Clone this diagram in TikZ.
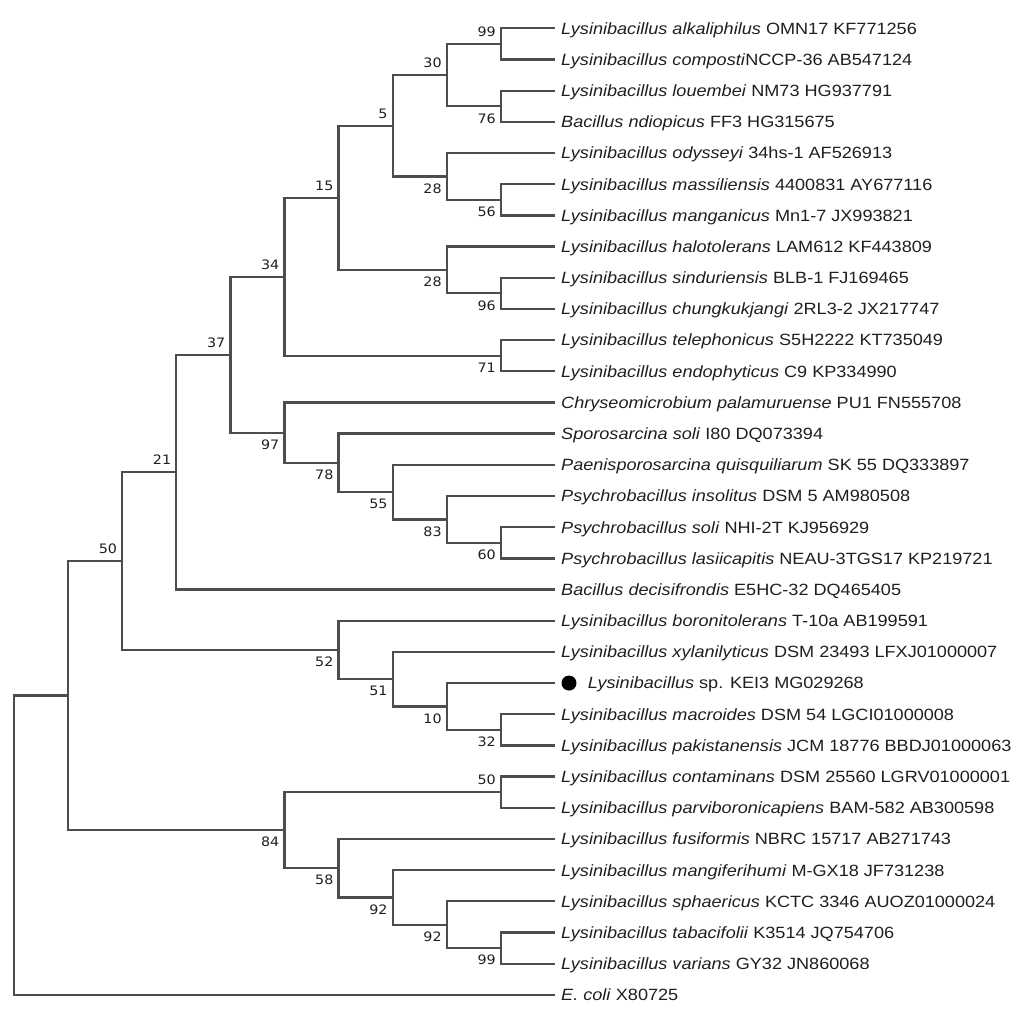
\documentclass[tikz,border=0pt]{standalone}
\usepackage{fontspec}
\newfontfamily\leaffont[FakeStretch=1.11]{Liberation Sans}
\newfontfamily\bsfont[FakeStretch=1.1]{DejaVu Sans}
\definecolor{branch}{HTML}{4d4d4d}
\definecolor{ink}{HTML}{1f1f1f}
\tikzset{
  br/.style={draw=branch, line width=2.3pt},
  leaf/.style={anchor=west, inner sep=0pt, xshift=6pt, text height=11.7pt, text depth=0pt, text=ink, font=\leaffont\fontsize{16.3}{18}\selectfont},
  bsup/.style={anchor=east, inner sep=0pt, xshift=-5pt, yshift=12pt, text height=9.5pt, text depth=0pt, text=ink, font=\bsfont\fontsize{13}{15}\selectfont},
  bsdn/.style={bsup, yshift=-24pt},
  mark dot/.style={circle, fill=black, inner sep=0pt, minimum size=15pt}
}
\begin{document}
\begin{tikzpicture}[x=54.1pt, y=-31.18pt]
\path[use as bounding box] (-0.2588,-0.9076) rectangle (18.669,31.934);
% leaf tips
\foreach \i in {1,...,32}{ \coordinate (t\i) at (10,\i-1); }
% internal nodes
\coordinate (A) at (9,0.5);
\coordinate (B) at (9,2.5);
\coordinate (C) at (8,1.5);
\coordinate (D) at (9,5.5);
\coordinate (E) at (8,4.75);
\coordinate (F) at (7,3.125);
\coordinate (G) at (9,8.5);
\coordinate (H) at (8,7.75);
\coordinate (I) at (6,5.4375);
\coordinate (J) at (9,10.5);
\coordinate (K) at (5,7.96875);
\coordinate (M) at (9,16.5);
\coordinate (N) at (8,15.75);
\coordinate (O) at (7,14.875);
\coordinate (P) at (6,13.9375);
\coordinate (Q) at (5,12.96875);
\coordinate (R) at (4,10.46875);
\coordinate (S) at (3,14.234375);
\coordinate (T) at (9,22.5);
\coordinate (U) at (8,21.75);
\coordinate (V) at (7,20.875);
\coordinate (W) at (6,19.9375);
\coordinate (X) at (2,17.0859375);
\coordinate (Y) at (9,24.5);
\coordinate (Z1) at (9,29.5);
\coordinate (Z2) at (8,28.75);
\coordinate (Z3) at (7,27.875);
\coordinate (Z4) at (6,26.9375);
\coordinate (Z5) at (5,25.71875);
\coordinate (AA) at (1,21.40234375);
\coordinate (RT) at (0,26.201171875);
% branches
\draw[br] (A) |- (t1); \draw[br] (A) |- (t2);
\draw[br] (B) |- (t3); \draw[br] (B) |- (t4);
\draw[br] (C) |- (A); \draw[br] (C) |- (B);
\draw[br] (D) |- (t6); \draw[br] (D) |- (t7);
\draw[br] (E) |- (t5); \draw[br] (E) |- (D);
\draw[br] (F) |- (C); \draw[br] (F) |- (E);
\draw[br] (G) |- (t9); \draw[br] (G) |- (t10);
\draw[br] (H) |- (t8); \draw[br] (H) |- (G);
\draw[br] (I) |- (F); \draw[br] (I) |- (H);
\draw[br] (J) |- (t11); \draw[br] (J) |- (t12);
\draw[br] (K) |- (I); \draw[br] (K) |- (J);
\draw[br] (M) |- (t17); \draw[br] (M) |- (t18);
\draw[br] (N) |- (t16); \draw[br] (N) |- (M);
\draw[br] (O) |- (t15); \draw[br] (O) |- (N);
\draw[br] (P) |- (t14); \draw[br] (P) |- (O);
\draw[br] (Q) |- (t13); \draw[br] (Q) |- (P);
\draw[br] (R) |- (K); \draw[br] (R) |- (Q);
\draw[br] (S) |- (R); \draw[br] (S) |- (t19);
\draw[br] (T) |- (t23); \draw[br] (T) |- (t24);
\draw[br] (U) |- (t22); \draw[br] (U) |- (T);
\draw[br] (V) |- (t21); \draw[br] (V) |- (U);
\draw[br] (W) |- (t20); \draw[br] (W) |- (V);
\draw[br] (X) |- (S); \draw[br] (X) |- (W);
\draw[br] (Y) |- (t25); \draw[br] (Y) |- (t26);
\draw[br] (Z1) |- (t30); \draw[br] (Z1) |- (t31);
\draw[br] (Z2) |- (t29); \draw[br] (Z2) |- (Z1);
\draw[br] (Z3) |- (t28); \draw[br] (Z3) |- (Z2);
\draw[br] (Z4) |- (t27); \draw[br] (Z4) |- (Z3);
\draw[br] (Z5) |- (Y); \draw[br] (Z5) |- (Z4);
\draw[br] (AA) |- (X); \draw[br] (AA) |- (Z5);
\draw[br] (RT) |- (AA); \draw[br] (RT) |- (t32);
% bootstrap values
\node[bsup] (bA) at (A) {99};
\node[bsdn] (bB) at (B) {76};
\node[bsup] (bC) at (C) {30};
\node[bsdn] (bD) at (D) {56};
\node[bsdn] (bE) at (E) {28};
\node[bsup] (bF) at (F) {5};
\node[bsdn] (bG) at (G) {96};
\node[bsdn] (bH) at (H) {28};
\node[bsup] (bI) at (I) {15};
\node[bsdn] (bJ) at (J) {71};
\node[bsup] (bK) at (K) {34};
\node[bsdn] (bM) at (M) {60};
\node[bsdn] (bN) at (N) {83};
\node[bsdn] (bO) at (O) {55};
\node[bsdn] (bP) at (P) {78};
\node[bsdn] (bQ) at (Q) {97};
\node[bsup] (bR) at (R) {37};
\node[bsup] (bS) at (S) {21};
\node[bsdn] (bT) at (T) {32};
\node[bsdn] (bU) at (U) {10};
\node[bsdn] (bV) at (V) {51};
\node[bsdn] (bW) at (W) {52};
\node[bsup] (bX) at (X) {50};
\node[bsup] (bY) at (Y) {50};
\node[bsdn] (bZ1) at (Z1) {99};
\node[bsdn] (bZ2) at (Z2) {92};
\node[bsdn] (bZ3) at (Z3) {92};
\node[bsdn] (bZ4) at (Z4) {58};
\node[bsdn] (bZ5) at (Z5) {84};
% leaf labels
\node[leaf] (n1) at (t1) {\textit{Lysinibacillus alkaliphilus} OMN17 KF771256};
\node[leaf] (n2) at (t2) {\textit{Lysinibacillus composti}NCCP-36 AB547124};
\node[leaf] (n3) at (t3) {\textit{Lysinibacillus louembei} NM73 HG937791};
\node[leaf] (n4) at (t4) {\textit{Bacillus ndiopicus} FF3 HG315675};
\node[leaf] (n5) at (t5) {\textit{Lysinibacillus odysseyi} 34hs-1 AF526913};
\node[leaf] (n6) at (t6) {\textit{Lysinibacillus massiliensis} 4400831 AY677116};
\node[leaf] (n7) at (t7) {\textit{Lysinibacillus manganicus} Mn1-7 JX993821};
\node[leaf] (n8) at (t8) {\textit{Lysinibacillus halotolerans} LAM612 KF443809};
\node[leaf] (n9) at (t9) {\textit{Lysinibacillus sinduriensis} BLB-1 FJ169465};
\node[leaf] (n10) at (t10) {\textit{Lysinibacillus chungkukjangi} 2RL3-2 JX217747};
\node[leaf] (n11) at (t11) {\textit{Lysinibacillus telephonicus} S5H2222 KT735049};
\node[leaf] (n12) at (t12) {\textit{Lysinibacillus endophyticus} C9 KP334990};
\node[leaf] (n13) at (t13) {\textit{Chryseomicrobium palamuruense} PU1 FN555708};
\node[leaf] (n14) at (t14) {\textit{Sporosarcina soli} I80 DQ073394};
\node[leaf] (n15) at (t15) {\textit{Paenisporosarcina quisquiliarum} SK 55 DQ333897};
\node[leaf] (n16) at (t16) {\textit{Psychrobacillus insolitus} DSM 5 AM980508};
\node[leaf] (n17) at (t17) {\textit{Psychrobacillus soli} NHI-2T KJ956929};
\node[leaf] (n18) at (t18) {\textit{Psychrobacillus lasiicapitis} NEAU-3TGS17 KP219721};
\node[leaf] (n19) at (t19) {\textit{Bacillus decisifrondis} E5HC-32 DQ465405};
\node[leaf] (n20) at (t20) {\textit{Lysinibacillus boronitolerans} T-10a AB199591};
\node[leaf] (n21) at (t21) {\textit{Lysinibacillus xylanilyticus} DSM 23493 LFXJ01000007};
\node[mark dot] (dot) at ([xshift=14pt]t22) {};
\node[leaf, xshift=0pt] (n22) at ([xshift=5pt]dot.east) {\textit{Lysinibacillus} sp. KEI3 MG029268};
\node[leaf] (n23) at (t23) {\textit{Lysinibacillus macroides} DSM 54 LGCI01000008};
\node[leaf] (n24) at (t24) {\textit{Lysinibacillus pakistanensis} JCM 18776 BBDJ01000063};
\node[leaf] (n25) at (t25) {\textit{Lysinibacillus contaminans} DSM 25560 LGRV01000001};
\node[leaf] (n26) at (t26) {\textit{Lysinibacillus parviboronicapiens} BAM-582 AB300598};
\node[leaf] (n27) at (t27) {\textit{Lysinibacillus fusiformis} NBRC 15717 AB271743};
\node[leaf] (n28) at (t28) {\textit{Lysinibacillus mangiferihumi} M-GX18 JF731238};
\node[leaf] (n29) at (t29) {\textit{Lysinibacillus sphaericus} KCTC 3346 AUOZ01000024};
\node[leaf] (n30) at (t30) {\textit{Lysinibacillus tabacifolii} K3514 JQ754706};
\node[leaf] (n31) at (t31) {\textit{Lysinibacillus varians} GY32 JN860068};
\node[leaf] (n32) at (t32) {\textit{E. coli} X80725};
\end{tikzpicture}
\end{document}
